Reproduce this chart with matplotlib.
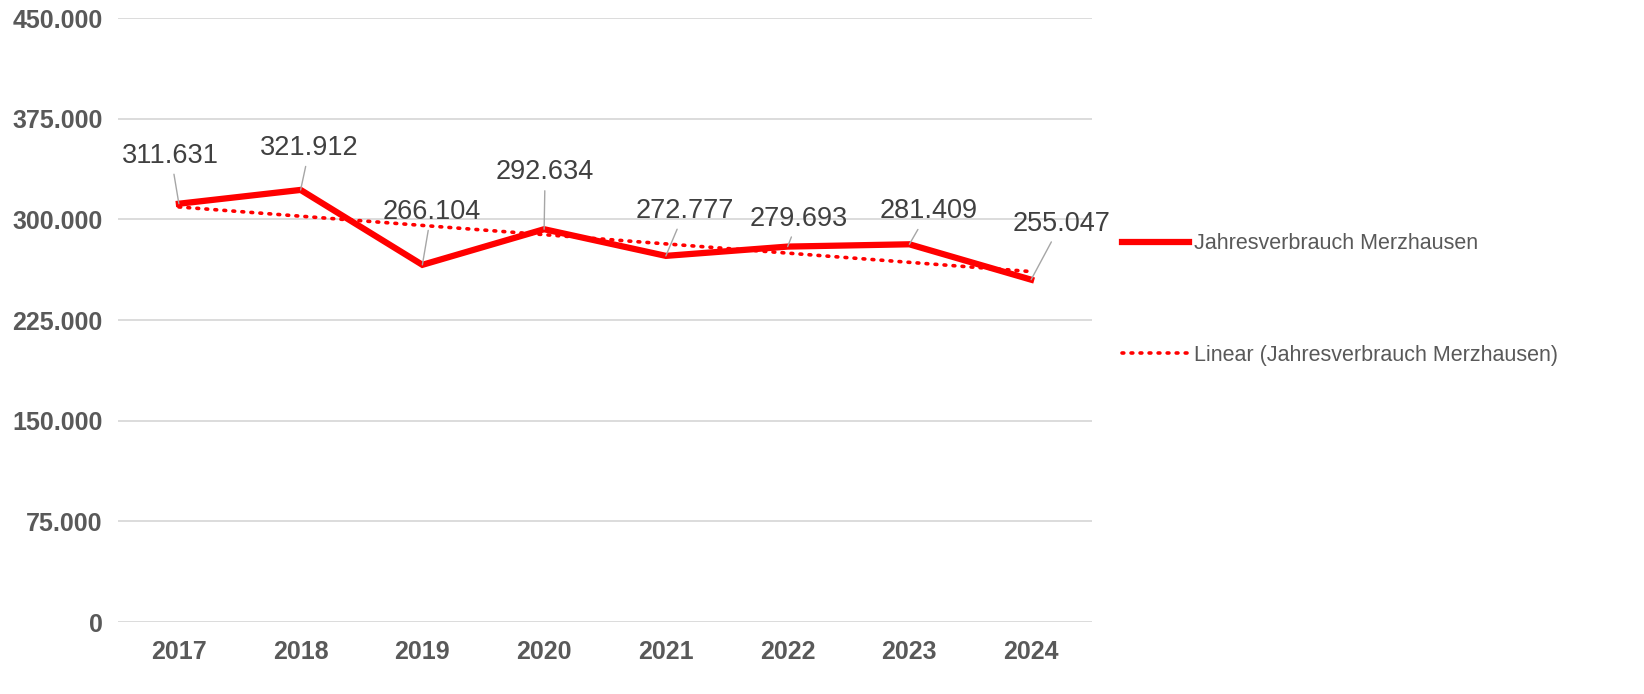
import numpy as np
import matplotlib.pyplot as plt
from matplotlib.ticker import FuncFormatter

years = ['2017', '2018', '2019', '2020', '2021', '2022', '2023', '2024']
verbrauch = [311631, 321912, 266104, 292634, 272777, 279693, 281409, 255047]
yticks = [0, 75000, 150000, 225000, 300000, 375000, 450000]

# label offsets in pixels (label centre relative to point)
label_offsets = [(-8, 48), (9, 42), (9, 53), (1, 57), (19, 45), (11, 28), (19, 33), (30, 56)]

plt.rcParams['font.family'] = ['Liberation Sans', 'DejaVu Sans']

fig = plt.figure(figsize=(16.44, 6.94), dpi=100)
ax = fig.add_axes([118 / 1644, 1 - 622 / 694, (1092 - 118) / 1644, (622 - 18) / 694])

x = np.arange(len(years))
ax.plot(x, verbrauch, color='#ff0000', lw=4.5, solid_joinstyle='miter',
        label='Jahresverbrauch Merzhausen', zorder=3)

# linear trend
k, d = np.polyfit(x, verbrauch, 1)
ax.plot(x, k * x + d, color='#ff0000', lw=2.6, linestyle=(0, (0.5, 2.0)),
        dash_capstyle='round', label='Linear (Jahresverbrauch Merzhausen)', zorder=2)

def fmt(v):
    return f'{int(v):,}'.replace(',', '.')

for xi, v, off in zip(x, verbrauch, label_offsets):
    ax.annotate(fmt(v), (xi, v), xytext=off, textcoords='offset pixels',
                ha='center', va='center', fontsize=19.5, color='#404040',
                arrowprops=dict(arrowstyle='-', color='#a6a6a6', lw=1,
                                shrinkA=2, shrinkB=0), zorder=4)

ax.set_xlim(-0.5, len(years) - 0.5)
ax.set_ylim(0, 450000)
ax.set_yticks(yticks)
ax.yaxis.set_major_formatter(FuncFormatter(lambda v, p: fmt(v)))
ax.set_xticks(x)
ax.set_xticklabels(years)
ax.grid(axis='y', color='#d9d9d9', lw=1.3)
ax.set_axisbelow(True)
for s in ax.spines.values():
    s.set_visible(False)
ax.tick_params(length=0, labelsize=18, labelcolor='#595959')
ax.tick_params(axis='y', pad=11)
ax.tick_params(axis='x', pad=13)
for t in ax.get_xticklabels() + ax.get_yticklabels():
    t.set_fontweight('bold')

fig.legend(loc='center left', bbox_to_anchor=(1122 / 1644, 1 - 299.5 / 694),
           frameon=False, fontsize=15.5, labelcolor='#595959', handlelength=3.1,
           handletextpad=0.25, labelspacing=4.2, borderpad=0, borderaxespad=0)

fig.savefig('out.png', dpi=100)
